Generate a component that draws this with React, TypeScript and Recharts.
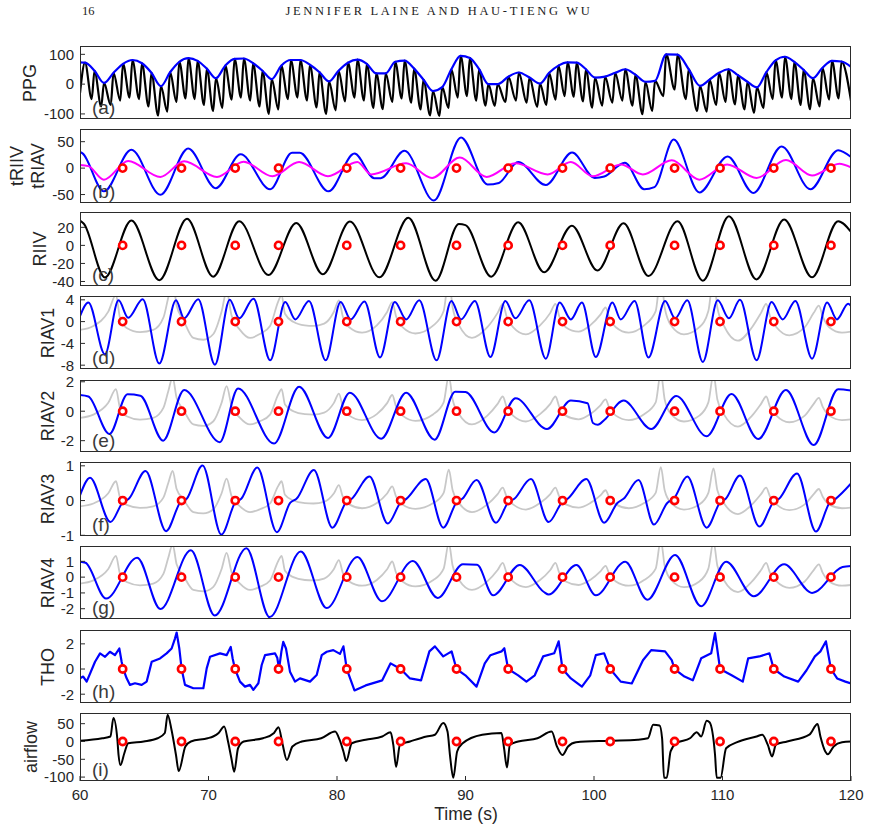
import { LineChart, Line, XAxis, YAxis } from 'recharts'

type Pair = [number, number]

const timeTicks = [60, 70, 80, 90, 100, 110, 120]

// onset markers (s), drawn on the zero line of panels (b)-(i)
const markerTimes = [63.32, 67.9, 72.08, 75.45, 80.76, 84.95, 89.3, 93.32, 97.55, 101.26, 106.27, 109.81, 113.99, 118.44]

// PPG: beat feet and beat peaks (the envelope runs through the peaks)
const ppgFeet: Pair[] = [
  [60.0, -30], [60.91, -50], [61.65, -75], [62.39, -70], [63.13, -55], [63.86, -45], [64.6, -50], [65.34, -75],
  [66.08, -105], [66.79, -92], [67.51, -60], [68.22, -48], [68.93, -50], [69.65, -70], [70.36, -90], [71.08, -80],
  [71.81, -52], [72.53, -45], [73.25, -55], [73.98, -75], [74.7, -100], [75.44, -85], [76.19, -50], [76.93, -45],
  [77.67, -55], [78.42, -78], [79.16, -100], [79.9, -88], [80.63, -58], [81.37, -45], [82.1, -55], [82.84, -80],
  [83.57, -84], [84.31, -60], [85.04, -48], [85.78, -62], [86.51, -85], [87.25, -105], [87.97, -107], [88.68, -80],
  [89.4, -45], [90.12, -40], [90.84, -55], [91.56, -72], [92.28, -73], [93.11, -60], [93.93, -55], [94.76, -62],
  [95.58, -76], [96.29, -70], [97.01, -52], [97.72, -40], [98.43, -42], [99.15, -58], [99.86, -79], [100.64, -72],
  [101.43, -62], [102.21, -55], [103.0, -72], [103.78, -101], [104.53, -90], [105.4, -40], [106.28, -18], [107.15, -50],
  [108.03, -90], [108.77, -92], [109.51, -70], [110.24, -60], [110.98, -68], [111.72, -85], [112.46, -96], [113.19, -80],
  [113.91, -50], [114.64, -45], [115.37, -50], [116.09, -70], [116.82, -84], [117.56, -75], [118.3, -52], [119.04, -48],
  [120.0, -56],
]
const ppgPeaks: Pair[] = [
  [60.39, 72], [61.13, 45], [61.87, 4], [62.61, 38], [63.35, 68], [64.08, 81], [64.82, 70], [65.56, 38],
  [66.3, -7], [67.01, 40], [67.73, 75], [68.44, 87], [69.15, 78], [69.87, 52], [70.58, 20], [71.3, 62],
  [72.03, 85], [72.75, 86], [73.47, 70], [74.2, 45], [74.92, 17], [75.66, 62], [76.41, 81], [77.15, 81],
  [77.89, 65], [78.64, 40], [79.38, 9], [80.12, 45], [80.85, 72], [81.59, 82], [82.32, 68], [83.06, 36],
  [83.79, 36], [84.53, 75], [85.26, 79], [86.0, 52], [86.73, 15], [87.47, -23], [88.19, -10], [88.9, 50],
  [89.62, 95], [90.34, 88], [91.06, 50], [91.78, 0], [92.5, 0], [93.33, 25], [94.15, 39], [94.98, 22],
  [95.8, 2], [96.51, 38], [97.23, 62], [97.94, 73], [98.65, 72], [99.37, 50], [100.08, 22], [100.86, 25],
  [101.65, 38], [102.43, 50], [103.22, 32], [104.0, 8], [104.75, 11], [105.62, 100], [106.5, 99], [107.37, 50],
  [108.25, -6], [108.99, 15], [109.73, 38], [110.46, 50], [111.2, 30], [111.94, 8], [112.68, -11], [113.41, 40],
  [114.13, 80], [114.86, 92], [115.59, 75], [116.31, 48], [117.04, 20], [117.78, 55], [118.52, 78], [119.26, 76],
]
const ppgEnvEnds: Pair[] = [[60.0, 73], [120.0, 58]]

const tRIIV: Pair[] = [
  [60, 30.8], [60.2, 28], [61.86, -44], [64.0, 34.6], [66.26, -50.6], [68.42, 37], [70.57, -38], [72.5, 26],
  [74.8, -40], [76.5, 29], [77.1, 29], [79.34, -44], [81.36, 27.6], [82.9, -19], [83.4, -19], [85.25, 32.7],
  [87.54, -61.5], [89.65, 58], [91.72, -31], [92.6, -28], [94.1, 11.5], [96.25, -32], [98.3, 29.5], [100.05, -18.6],
  [100.8, -16], [102.4, 10], [103.9, -40], [104.7, -36], [106.2, 54], [108.2, -46], [110.4, 22], [112.4, -47],
  [114.6, 41], [116.84, -40], [119.0, 34], [120, 21],
]
const tRIAV: Pair[] = [
  [60, 5.8], [60.65, 3.8], [61.86, -21.8], [63.75, 13.5], [66.26, -16.7], [68.1, 12.8], [70.66, -16.7], [72.73, 12.2],
  [74.98, -15.4], [77.05, 11.5], [79.3, -15.4], [81.58, 11.5], [82.66, -12], [85.38, 9], [87.4, -18.6], [89.56, 19.9],
  [91.64, -16.7], [93.88, 9], [96.4, -12], [98.2, 11.5], [99.9, -15.4], [102.1, 7], [103.8, -12], [106.05, 14.7],
  [108.2, -21.8], [110.36, 7], [112.65, -18.6], [114.94, 15.4], [116.97, -14], [119.1, 8.3], [120, 1.3],
]

const riiv: Pair[] = [
  [60, 27.5], [60.3, 24], [61.94, -35.5], [64.0, 27.5], [66.17, -38.5], [68.33, 29.4], [70.36, -34.7], [72.39, 26.8],
  [74.67, -32.8], [76.83, 24.9], [78.9, -32], [81.0, 26.4], [83.3, -35.4], [85.55, 30.5], [87.67, -39.2], [89.48, 23.7],
  [90.0, 22.5], [92.0, -34.7], [94.1, 25.6], [96.12, -29.8], [98.28, 21.9], [100.27, -27.9], [102.3, 24.5], [104.24, -33.9],
  [106.5, 26.8], [108.47, -39.2], [110.5, 32.4], [112.65, -37.7], [114.8, 28.7], [116.97, -35.4], [119.0, 26.8], [120, 15],
]

const riav1: Pair[] = [
  [60, 1.0], [60.65, 3.5], [61.94, -6.0], [63.0, 3.9], [63.75, 0.7], [64.88, 4.1], [66.17, -7.7], [67.47, 3.9],
  [68.1, 0.6], [69.2, 4.1], [70.5, -7.9], [71.65, 4.0], [72.39, 0.6], [73.5, 4.2], [74.8, -7.1], [75.97, 3.6],
  [76.75, 0.4], [77.82, 3.8], [79.12, -7.1], [80.28, 3.6], [81.06, 0.4], [82.14, 3.7], [83.35, -6.6], [84.5, 3.6],
  [85.38, 0.4], [86.4, 3.9], [87.75, -7.1], [88.9, 3.8], [89.65, 0.4], [90.73, 3.8], [91.94, -6.5], [93.1, 3.8],
  [93.88, 0.6], [94.96, 3.9], [96.25, -6.8], [97.33, 3.5], [98.2, 0.4], [99.06, 3.5], [100.14, -6.5], [101.43, 3.5],
  [102.08, 0.4], [103.16, 3.8], [104.24, -6.6], [105.53, 3.8], [106.31, 0.6], [107.26, 3.9], [108.47, -7.4], [109.63, 3.9],
  [110.5, 0.6], [111.36, 4.0], [112.65, -7.1], [113.82, 3.6], [114.68, 0.4], [115.67, 3.8], [116.97, -6.8], [118.14, 3.5],
  [118.9, 0.4], [119.78, 3.3], [120, 2.9],
]

const riav2: Pair[] = [
  [60, 1.1], [60.65, 1.0], [62.29, -1.55], [63.7, 1.15], [64.7, 1.05], [66.47, -2.0], [68.11, 1.44], [70.88, -2.1],
  [72.3, 1.55], [75.1, -2.2], [77.05, 1.66], [79.3, -1.82], [81.0, 1.26], [83.44, -1.87], [85.38, 1.26], [87.6, -1.93],
  [89.2, 1.33], [90.0, 1.3], [92.24, -1.44], [93.9, 0.88], [96.34, -1.21], [98.2, 0.72], [99.5, 0.54], [99.92, -0.8],
  [100.3, -0.92], [100.8, -0.6], [102.3, 0.72], [104.45, -1.21], [106.4, 1.03], [108.77, -1.7], [110.7, 1.17], [112.78, -1.89],
  [114.94, 1.44], [117.1, -2.3], [119.0, 1.5], [120, 1.4],
]

const riav3: Pair[] = [
  [60, 0.15], [60.78, 0.66], [62.37, -0.62], [63.32, -0.06], [63.8, 0.05], [65.1, 0.85],
  [66.7, -0.88], [67.8, -0.06], [68.3, 0.05], [69.54, 1.01],
  [71.0, -0.98], [72.08, -0.06], [72.55, 0.05], [73.8, 0.95],
  [75.32, -0.91], [76.37, -0.06], [76.85, 0.05], [78.2, 0.88],
  [79.64, -0.78], [80.7, -0.06], [81.15, 0.05], [82.53, 0.69],
  [83.95, -0.66], [84.95, -0.06], [85.4, 0.05], [86.9, 0.62],
  [88.27, -0.78], [89.3, -0.06], [89.75, 0.05], [90.86, 0.59],
  [92.37, -0.64], [93.32, -0.06], [93.8, 0.05], [95.09, 0.62],
  [96.47, -0.62], [97.5, -0.06], [97.95, 0.05], [99.4, 0.62],
  [100.79, -0.64], [101.84, -0.06], [102.3, 0.05], [103.46, 0.59],
  [104.67, -0.69], [105.72, -0.06], [106.2, 0.05], [107.26, 0.69],
  [108.77, -0.78], [109.81, -0.06], [110.25, 0.05], [111.36, 0.72],
  [112.87, -0.75], [113.95, -0.06], [114.4, 0.05], [115.8, 0.78],
  [117.27, -0.89], [118.35, -0.06], [118.8, 0.05], [120, 0.49],
]

const riav4: Pair[] = [
  [60, 0.98], [60.43, 0.91], [62.03, -1.36], [64.45, 1.23], [66.26, -2.02], [68.63, 1.7], [70.49, -2.43], [72.95, 1.83],
  [74.76, -2.53], [77.18, 1.62], [79.2, -1.96], [81.58, 1.28], [83.5, -1.53], [85.9, 1.02], [87.84, -1.32], [89.8, 0.81],
  [90.9, 0.78], [92.15, -1.15], [94.22, 0.77], [96.1, -0.94], [96.47, -1.1], [98.63, 0.77], [100.14, -1.15], [102.43, 0.98],
  [104.15, -1.43], [106.31, 1.4], [108.34, -1.85], [110.28, 0.98], [112.44, -1.21], [114.8, 0.81], [116.97, -1.0], [119.34, 0.64],
  [120, 0.7],
]

// raw respiratory amplitude trace shown in grey behind RIAV1-4 (RIAV2 units)
const rawAmp: Pair[] = [
  [60.0, -0.45], [61.04, -0.23], [62.2, 0.57], [62.8, 1.5], [63.11, 0.23], [63.63, -0.34], [64.67, -0.57], [65.7, -0.45],
  [66.49, 0.23], [66.87, 1.36], [67.21, 2.3], [67.52, 0.9], [68.04, 0.11], [68.82, -0.9], [69.6, -1.0], [70.38, -0.68],
  [71.02, 0.57], [71.41, 1.7], [71.8, 0.34], [72.45, -0.45], [73.23, -0.9], [74.0, -0.68], [74.79, -0.23], [75.43, 1.14],
  [75.69, 1.5], [75.95, 0.45], [76.6, 0.0], [77.5, -0.2], [78.16, -0.23], [79.0, -0.1],
  [79.75, 0.55], [80.15, 1.2], [80.45, 0.3], [80.95, -0.3], [81.95, -0.6], [83.1, -0.2],
  [83.9, 0.55], [84.3, 1.1], [84.6, 0.3], [85.1, -0.3], [86.1, -0.65], [87.5, -0.2],
  [88.3, 0.6], [88.7, 2.4], [89.0, 0.8], [89.5, -0.2], [90.5, -0.9], [91.7, -0.3],
  [92.5, 0.5], [92.9, 1.0], [93.2, 0.3], [93.7, -0.3], [94.7, -0.7], [95.8, -0.2],
  [96.6, 0.5], [97.0, 1.0], [97.3, 0.3], [97.8, -0.3], [98.8, -0.55], [99.7, -0.2],
  [100.5, 0.4], [100.9, 0.8], [101.2, 0.2], [101.7, -0.3], [102.7, -0.6], [103.9, -0.2],
  [104.8, 0.6], [105.2, 2.6], [105.5, 0.8], [106.0, -0.2], [107.0, -0.7], [108.2, -0.3],
  [108.9, 0.6], [109.3, 2.5], [109.6, 0.8], [110.1, -0.2], [111.2, -1.05], [112.3, -0.3],
  [113.0, 0.5], [113.4, 1.0], [113.7, 0.3], [114.2, -0.3], [115.2, -0.75], [116.4, -0.3],
  [117.1, 0.5], [117.5, 0.9], [117.8, 0.3], [118.3, -0.3], [119.3, -0.6], [120.0, -0.55],
]

const tho: Pair[] = [
  [60, -0.74], [60.25, -0.6], [60.52, -1.0], [61.17, 0.58], [61.56, 1.24], [61.95, 0.97], [62.33, 1.37], [62.72, 1.1],
  [63.06, 1.63], [63.24, 0.58], [63.37, 0], [63.63, -0.74], [63.89, -1.26], [64.28, -1.13], [64.8, -1.26], [65.19, -1.0],
  [65.45, 0.05], [65.58, 0.58], [66.23, 0.84], [66.74, 1.24], [67.13, 1.63], [67.39, 2.42], [67.52, 2.9], [67.73, 1.63],
  [67.91, 0], [68.17, -1.26], [68.82, -1.53], [69.6, -1.53], [69.86, 0.05], [70.12, 0.97], [70.9, 1.24], [71.41, 1.1],
  [71.73, 1.76], [71.88, 0.84], [72.06, 0], [72.45, -1.0], [72.84, -1.4], [73.23, -1.26], [73.49, -1.66], [73.88, -1.13],
  [74.14, 0.32], [74.4, 1.1], [75.18, 1.24], [75.35, 0.9], [75.49, 0], [75.67, 1.37], [75.82, 2.16], [76.03, 1.63],
  [76.34, -0.21], [76.73, -1.0], [77.12, -0.74], [77.9, -1.0], [78.42, -0.47], [78.81, 1.1], [79.2, 1.37], [79.71, 1.5],
  [80.23, 1.2], [80.5, 1.8], [80.76, 0], [81.36, -1.7], [82.23, -1.3], [83.52, -0.9], [84.17, 0.45], [84.95, 0],
  [85.68, -0.75], [86.54, -0.9], [87.19, 1.4], [87.62, 1.8], [88.27, 1.0], [88.92, 1.4], [89.3, 0], [89.99, -0.5],
  [90.86, -1.4], [91.5, 0.45], [91.94, 1.1], [92.8, 1.4], [93.02, 1.65], [93.32, 0], [94.1, -0.5], [94.74, -1.0],
  [95.39, -0.5], [96.04, 1.0], [96.9, 1.25], [97.25, 2.2], [97.55, 0], [98.2, -0.75], [99.06, -1.4], [99.71, -0.5],
  [100.14, 1.1], [100.79, 1.25], [101.26, 0], [102.08, -1.0], [102.94, -1.15], [103.81, 0.7], [104.45, 1.5], [105.53, 1.4],
  [106.05, 0.7], [106.27, 0], [107.04, -0.6], [107.69, -0.9], [108.34, 0.85], [109.12, 1.25], [109.42, 2.85], [109.81, 0],
  [110.71, -0.5], [111.58, -1.0], [112.0, 0.85], [112.87, 1.0], [113.65, 1.25], [113.99, 0], [114.81, -0.6], [115.89, -1.0],
  [116.54, -0.1], [117.19, 1.0], [117.62, 1.4], [118.05, 2.2], [118.44, 0], [118.92, -0.75], [119.56, -1.0], [120.0, -1.15],
]

const airflow: Pair[] = [
  [60.0, 2], [61.73, 9], [62.37, 14], [62.6, 66], [62.9, 9], [63.0, -38], [63.15, -66], [63.45, -33], [63.75, -5],
  [64.96, 0], [66.04, 9], [66.6, 24], [66.82, 75], [67.12, 33], [67.47, -38], [67.68, -83], [68.2, -14], [68.63, 0],
  [69.93, 9], [70.36, 14], [70.79, 24], [71.22, 42], [71.52, 0], [71.78, -47], [72.0, -85], [72.3, -19], [72.74, 0],
  [74.24, 9], [75.1, 24], [75.45, 40], [75.75, -5], [76.1, -52], [76.53, -14], [77.26, 0], [78.77, 9], [79.85, 28],
  [80.2, 5], [80.5, -28], [80.72, -55], [81.15, -5], [82.23, 5], [83.52, 14], [84.17, 26], [84.38, -9], [84.6, -71],
  [84.9, -9], [85.68, 0], [86.97, 14], [87.62, 19], [88.27, 52], [88.6, 28], [88.79, -38], [89.05, -102], [89.35, -28],
  [89.78, -5], [91.3, 19], [92.8, 24], [93.0, -19], [93.23, -73], [93.45, -10], [94.1, 0], [95.6, 9], [96.7, 28],
  [97.12, -14], [97.55, -38], [97.98, -14], [98.6, -2], [101.2, 2], [103.4, 5], [104.2, 9], [104.6, 47], [105.1, 45],
  [105.3, 9], [105.45, -102], [105.66, -102], [105.96, -28], [106.4, -5], [107.47, 9], [108.0, 26], [108.34, 14],
  [108.77, 58], [108.99, 54], [109.42, -38], [109.55, -102], [109.85, -102], [110.28, -19], [111.14, -2], [112.65, 14],
  [113.1, 19], [113.52, -9], [113.86, -42], [114.16, -9], [115.03, 0], [116.76, 19], [117.4, 49], [117.62, 14],
  [118.0, -28], [118.2, -36], [118.65, -14], [119.3, -2], [120.0, 0],
]

const toPts = (pairs: Pair[]) => pairs.map(([t, v]) => ({ t, v }))
const byTime = (a: Pair, b: Pair) => a[0] - b[0]

const ppgTrace = [...ppgFeet, ...ppgPeaks].sort(byTime)
const ppgEnvelope = [...ppgEnvEnds, ...ppgPeaks].sort(byTime)
const markers = markerTimes.map((t) => ({ t, v: 0 }))

const BLUE = '#0000ff'
const BLACK = '#000000'
const MAGENTA = '#ff00ff'
const GREY = '#c8c8c8'
const FRAME = '#2b2b2b'
const SANS = '"Liberation Sans", Arial, Helvetica, sans-serif'

const PLOT_LEFT = 80
const PLOT_WIDTH = 771

interface Series {
  data: Pair[]
  color: string
  width: number
  curve?: 'monotone' | 'linear'
  onGray?: boolean
}

interface PanelSpec {
  id: string
  top: number
  height: number
  domain: [number, number]
  ticks: number[]
  labels: { text: string; x: number }[]
  series: Series[]
  grayDomain?: [number, number]
  marks: boolean
  timeAxis?: boolean
}

const panels: PanelSpec[] = [
  {
    id: 'a', top: 46, height: 73, domain: [-117, 128], ticks: [-100, 0, 100],
    labels: [{ text: 'PPG', x: 30 }], marks: false,
    series: [
      { data: ppgTrace, color: BLACK, width: 2.2 },
      { data: ppgEnvelope, color: BLUE, width: 2.2 },
    ],
  },
  {
    id: 'b', top: 129, height: 74, domain: [-66, 74], ticks: [-50, 0, 50],
    labels: [{ text: 'tRIIV', x: 17 }, { text: 'tRIAV', x: 38 }], marks: true,
    series: [
      { data: tRIIV, color: BLUE, width: 2 },
      { data: tRIAV, color: MAGENTA, width: 2 },
    ],
  },
  {
    id: 'c', top: 212, height: 74, domain: [-45, 37], ticks: [-40, -20, 0, 20],
    labels: [{ text: 'RIIV', x: 40 }], marks: true,
    series: [{ data: riiv, color: BLACK, width: 2 }],
  },
  {
    id: 'd', top: 296, height: 73, domain: [-8.7, 4.7], ticks: [-8, -4, 0, 4],
    labels: [{ text: 'RIAV1', x: 48 }], marks: true, grayDomain: [-2.63, 1.44],
    series: [
      { data: rawAmp, color: GREY, width: 1.8, onGray: true },
      { data: riav1, color: BLUE, width: 2 },
    ],
  },
  {
    id: 'e', top: 380, height: 72, domain: [-2.77, 2.12], ticks: [-2, 0, 2],
    labels: [{ text: 'RIAV2', x: 48 }], marks: true, grayDomain: [-2.77, 2.12],
    series: [
      { data: rawAmp, color: GREY, width: 1.8, onGray: true },
      { data: riav2, color: BLUE, width: 2 },
    ],
  },
  {
    id: 'f', top: 462, height: 74, domain: [-1.02, 1.11], ticks: [-1, 0, 1],
    labels: [{ text: 'RIAV3', x: 48 }], marks: true, grayDomain: [-2.76, 3.0],
    series: [
      { data: rawAmp, color: GREY, width: 1.8, onGray: true },
      { data: riav3, color: BLUE, width: 2 },
    ],
  },
  {
    id: 'g', top: 546, height: 73, domain: [-2.65, 1.97], ticks: [-2, -1, 0, 1],
    labels: [{ text: 'RIAV4', x: 48 }], marks: true, grayDomain: [-2.94, 2.19],
    series: [
      { data: rawAmp, color: GREY, width: 1.8, onGray: true },
      { data: riav4, color: BLUE, width: 2 },
    ],
  },
  {
    id: 'h', top: 630, height: 73, domain: [-2.7, 3.1], ticks: [-2, 0, 2],
    labels: [{ text: 'THO', x: 48 }], marks: true,
    series: [{ data: tho, color: BLUE, width: 2.2, curve: 'linear' }],
  },
  {
    id: 'i', top: 713, height: 68, domain: [-111, 80], ticks: [-100, -50, 0, 50],
    labels: [{ text: 'airflow', x: 31 }], marks: true, timeAxis: true,
    series: [{ data: airflow, color: BLACK, width: 2 }],
  },
]

const tickFont = { fontSize: 15, fill: '#262626', fontFamily: SANS }
const tickStroke = { stroke: FRAME, strokeWidth: 1 }

function Panel({ spec }: { spec: PanelSpec }) {
  const pad = spec.timeAxis ? 40 : 0
  const xTicks = spec.timeAxis ? tickStroke : false
  return (
    <div style={{ position: 'absolute', left: 0, top: spec.top }}>
      <LineChart width={870} height={spec.height + pad} margin={{ top: 0, right: 18, bottom: 0, left: 40 }}>
        <XAxis
          xAxisId="bottom" type="number" dataKey="t" domain={[60, 120]} ticks={timeTicks} interval={0}
          allowDataOverflow height={pad} axisLine={false} tickLine={xTicks} tickSize={-5} tickMargin={13}
          tick={spec.timeAxis ? tickFont : false}
        />
        <XAxis
          xAxisId="top" orientation="top" type="number" dataKey="t" domain={[60, 120]} ticks={timeTicks}
          interval={0} height={0} axisLine={false} tickLine={xTicks} tickSize={-5} tick={false}
        />
        <YAxis
          yAxisId="left" type="number" domain={spec.domain} ticks={spec.ticks} interval={0} allowDataOverflow
          width={40} axisLine={false} tickLine={tickStroke} tickSize={-5} tickMargin={11} tick={tickFont}
        />
        <YAxis
          yAxisId="right" orientation="right" type="number" domain={spec.domain} ticks={spec.ticks} interval={0}
          allowDataOverflow width={1} axisLine={false} tickLine={tickStroke} tickSize={-5} tick={false}
        />
        {spec.grayDomain && (
          <YAxis yAxisId="gray" type="number" hide width={0} domain={spec.grayDomain} allowDataOverflow />
        )}
        {spec.series.map((s, idx) => (
          <Line
            key={idx}
            xAxisId="bottom"
            yAxisId={s.onGray ? 'gray' : 'left'}
            data={toPts(s.data)}
            dataKey="v"
            type={s.curve ?? 'monotone'}
            stroke={s.color}
            strokeWidth={s.width}
            strokeLinejoin="round"
            dot={false}
            activeDot={false}
            isAnimationActive={false}
          />
        ))}
        {spec.marks && (
          <Line
            xAxisId="bottom"
            yAxisId="left"
            data={markers}
            dataKey="v"
            stroke="none"
            dot={{ r: 3.6, stroke: '#ff0000', strokeWidth: 2.6, fill: '#ffffff' }}
            activeDot={false}
            isAnimationActive={false}
          />
        )}
      </LineChart>
      {/* axes box */}
      <div
        style={{
          position: 'absolute', left: PLOT_LEFT, top: 0, width: PLOT_WIDTH, height: spec.height,
          boxSizing: 'border-box', border: `1px solid ${FRAME}`, pointerEvents: 'none',
        }}
      />
      <div
        style={{
          position: 'absolute', left: 92, top: spec.height - 21, fontSize: 19, lineHeight: '19px',
          color: '#3a3a3a', fontFamily: SANS, pointerEvents: 'none',
        }}
      >
        ({spec.id})
      </div>
      {spec.labels.map((l) => (
        <div
          key={l.text}
          style={{
            position: 'absolute', left: l.x - 60, top: spec.height / 2 - 11, width: 120, height: 22,
            lineHeight: '22px', textAlign: 'center', transform: 'rotate(-90deg)', fontSize: 18,
            color: '#262626', fontFamily: SANS,
          }}
        >
          {l.text}
        </div>
      ))}
    </div>
  )
}

export default function App() {
  return (
    <div style={{ position: 'absolute', left: 0, top: 0, width: 870, height: 830, background: '#ffffff', overflow: 'hidden' }}>
      <style>{'.recharts-surface { overflow: visible; }'}</style>
      <div style={{ position: 'absolute', left: 82, top: 4, fontSize: 12.5, fontFamily: '"Liberation Serif", serif', color: '#222' }}>
        16
      </div>
      <div
        style={{
          position: 'absolute', left: 239, top: 4, width: 400, textAlign: 'center', fontSize: 12.5,
          letterSpacing: 2.7, fontFamily: '"Liberation Serif", serif', color: '#222',
        }}
      >
        JENNIFER LAINE AND HAU-TIENG WU
      </div>
      {panels.map((p) => (
        <Panel key={p.id} spec={p} />
      ))}
      <div
        style={{
          position: 'absolute', left: 366, top: 804, width: 200, textAlign: 'center', fontSize: 17.5,
          fontFamily: SANS, color: '#262626',
        }}
      >
        Time (s)
      </div>
    </div>
  )
}
